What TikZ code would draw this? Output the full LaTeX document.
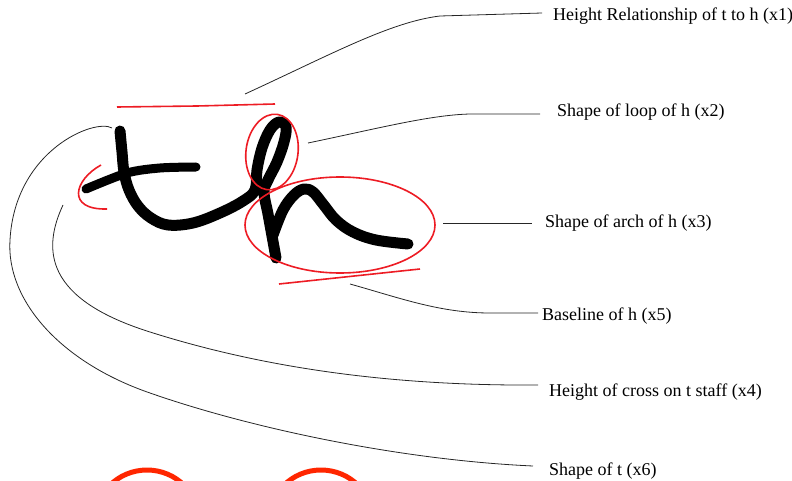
\documentclass[tikz,border=0pt]{standalone}
\usepackage{fontspec}
\setmainfont{Liberation Serif}
\usepackage{tikz}
\usetikzlibrary{positioning, calc, shapes.geometric}

\definecolor{paintred}{RGB}{237,28,36}
\definecolor{brightred}{RGB}{255,38,0}

\begin{document}
\begin{tikzpicture}[x=1pt,y=-1pt]
	 \tikzstyle{feature}=[anchor=base west, inner sep=0pt, font=\fontsize{18}{20}\selectfont]
	 \tikzstyle{leader} = [draw, line width=0.8pt, black!85]
	 \tikzstyle{ink} = [draw, line width=11pt, black, line cap=round, line join=round]
	 \tikzstyle{markup} = [draw, line width=1.6pt, paintred]
	 \useasboundingbox (0,0) rectangle (792,481);
	 \clip (0,0) rectangle (792,481);
	 % feature labels
	 \node[feature] (x1) at (553,21) {Height Relationship of t to h (x1)};
	 \node[feature] (x2) at (557,117) {Shape of loop of h (x2)};
	 \node[feature] (x3) at (545,227) {Shape of arch of h (x3)};
	 \node[feature] (x5) at (542,320) {Baseline of h (x5)};
	 \node[feature] (x4) at (549,396) {Height of cross on t staff (x4)};
	 \node[feature] (x6) at (549,475) {Shape of t (x6)};
	 % handwritten "th"
	 \draw[ink] plot[smooth, tension=0.6] coordinates {(120,131) (122,152) (124,172) (129,190) (138,206) (151,218) (168,225) (193,223) (220,213) (243,201) (255,190) (257,170) (262,148) (270,130) (279,122) (286,127) (284,142) (277,162) (268,180) (264,192) (268,214) (272,236) (276,258)};
	 \draw[ink, line width=9pt] plot[smooth, tension=0.5] coordinates {(86,189) (127,173) (160,168) (196,167)};
	 \draw[ink] plot[smooth, tension=0.6] coordinates {(273,235) (283,210) (294,195) (304,189) (313,192) (323,204) (336,220) (353,232) (376,240) (408,244)};
	 % red markings
	 \node[markup, ellipse, minimum width=52pt, minimum height=76pt, inner sep=0pt, rotate=-8] (loop) at (272,152) {};
	 \node[markup, ellipse, minimum width=190pt, minimum height=96pt, inner sep=0pt] (arch) at (340,225) {};
	 \draw[markup] (117,107) -- (197,106) -- (275,104);
	 \draw[markup] (279,284) -- (420,269);
	 \draw[markup] (101,165) .. controls (74,180) and (66,210) .. (107,209);
	 \draw[line width=5pt, brightred] (147,523) circle (53pt);
	 \draw[line width=5pt, brightred] (321,523) circle (53pt);
	 % leader lines
	 \coordinate (s1) at (245,94);
	 \coordinate (s2) at (308,143);
	 \coordinate (s3) at (443,223);
	 \coordinate (s5) at (350,284);
	 \coordinate (s4) at (63,205);
	 \coordinate (s6) at (112,128);
	 \draw[leader] (s1) .. controls (330,55) and (390,22) .. (440,16) -- ($(x1.base west)+(-11,-8)$);
	 \draw[leader] (s2) .. controls (380,128) and (430,115) .. (470,114) -- ($(x2.base west)+(-17,-3)$);
	 \draw[leader] (s3) -- ($(x3.base west)+(-13,-4)$);
	 \draw[leader] (s5) .. controls (400,298) and (440,313) .. (490,313) -- ($(x5.base west)+(-4,-7)$);
	 \draw[leader] (s4) .. controls (42,250) and (45,299) .. (150,332) .. controls (270,370) and (400,386) .. ($(x4.base west)+(-11,-11)$);
	 \draw[leader] (s6) .. controls (95,118) and (15,150) .. (10,240) .. controls (6,300) and (60,362) .. (150,393) .. controls (250,428) and (400,460) .. ($(x6.base west)+(-16,-9)$);
\end{tikzpicture}
\end{document}
